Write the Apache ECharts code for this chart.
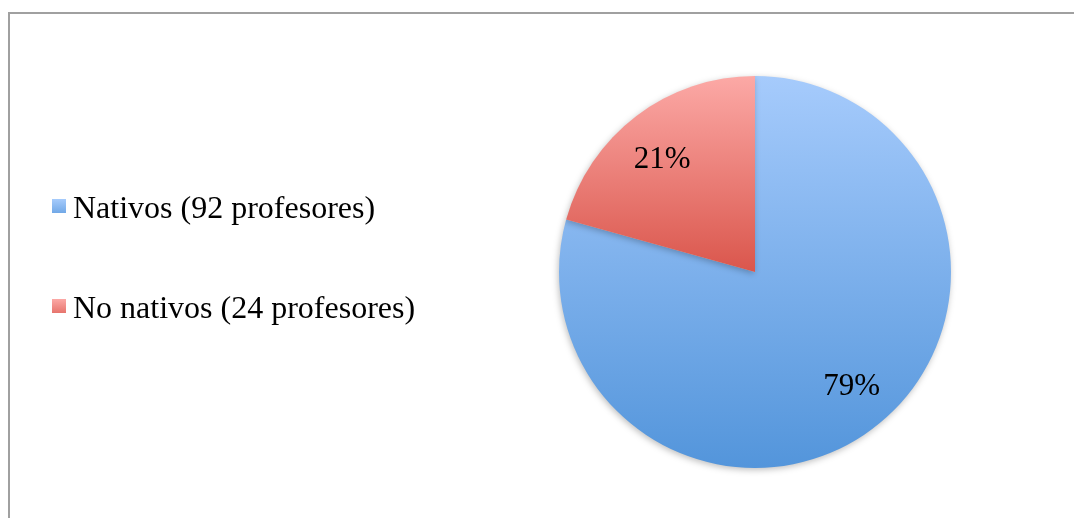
<!DOCTYPE html>
<html>
<head>
<meta charset="utf-8">
<script src="https://cdn.jsdelivr.net/npm/echarts@6/dist/echarts.min.js"></script>
<style>
html,body{margin:0;padding:0;background:#fff;}
#frame{position:absolute;left:8px;top:12px;width:1100px;height:540px;border-left:2px solid #a0a0a0;border-top:2px solid #a0a0a0;}
#chart{position:absolute;left:0;top:0;width:1074px;height:518px;}
</style>
</head>
<body>
<div id="frame"></div>
<div id="chart"></div>
<script>
const categories = ['Nativos (92 profesores)', 'No nativos (24 profesores)'];
const values = [92, 24];
const percentLabels = ['79%', '21%'];

const fills = [
  {type:'linear',x:0,y:0,x2:0,y2:1,colorStops:[{offset:0,color:'#a6cbfc'},{offset:1,color:'#5395db'}]},
  {type:'linear',x:0,y:0,x2:0,y2:1,colorStops:[{offset:0,color:'#fca9a6'},{offset:1,color:'#da564c'}]}
];
const labelOffsets = [[6,-5],[-2,7]];

const data = categories.map((c,i)=>({name:c,value:values[i],itemStyle:{color:fills[i]}}));
const labelData = categories.map((c,i)=>({name:c,value:values[i],label:{formatter:percentLabels[i],offset:labelOffsets[i]}}));

const chart = echarts.init(document.getElementById('chart'), null, {renderer:'canvas'});
chart.setOption({
  animation:false,
  backgroundColor:'transparent',
  legend:{
    orient:'vertical',
    left:47,
    top:189,
    itemWidth:14,
    itemHeight:22,
    itemGap:68,
    icon:'path://M0,0L14,0L14,14L0,14Z M0,21.99L0.01,21.99L0.01,22L0,22Z',
    textStyle:{fontFamily:'Liberation Serif',fontSize:32,color:'#000',padding:[0,0,0,2]},
    data:categories
  },
  series:[
    {
      type:'pie',
      center:[755,272],
      radius:[0,196],
      startAngle:90,
      clockwise:true,
      data:data,
      label:{show:false},
      labelLine:{show:false},
      itemStyle:{shadowBlur:6,shadowColor:'rgba(0,0,0,0.25)',shadowOffsetX:-1,shadowOffsetY:2},
      silent:true
    },
    {
      type:'pie',
      center:[755,272],
      radius:[98,196],
      startAngle:90,
      clockwise:true,
      data:labelData,
      itemStyle:{color:'rgba(0,0,0,0)'},
      label:{show:true,position:'inside',fontFamily:'Liberation Serif',fontSize:31,color:'#000'},
      labelLine:{show:false},
      silent:true
    }
  ]
});
</script>
</body>
</html>
